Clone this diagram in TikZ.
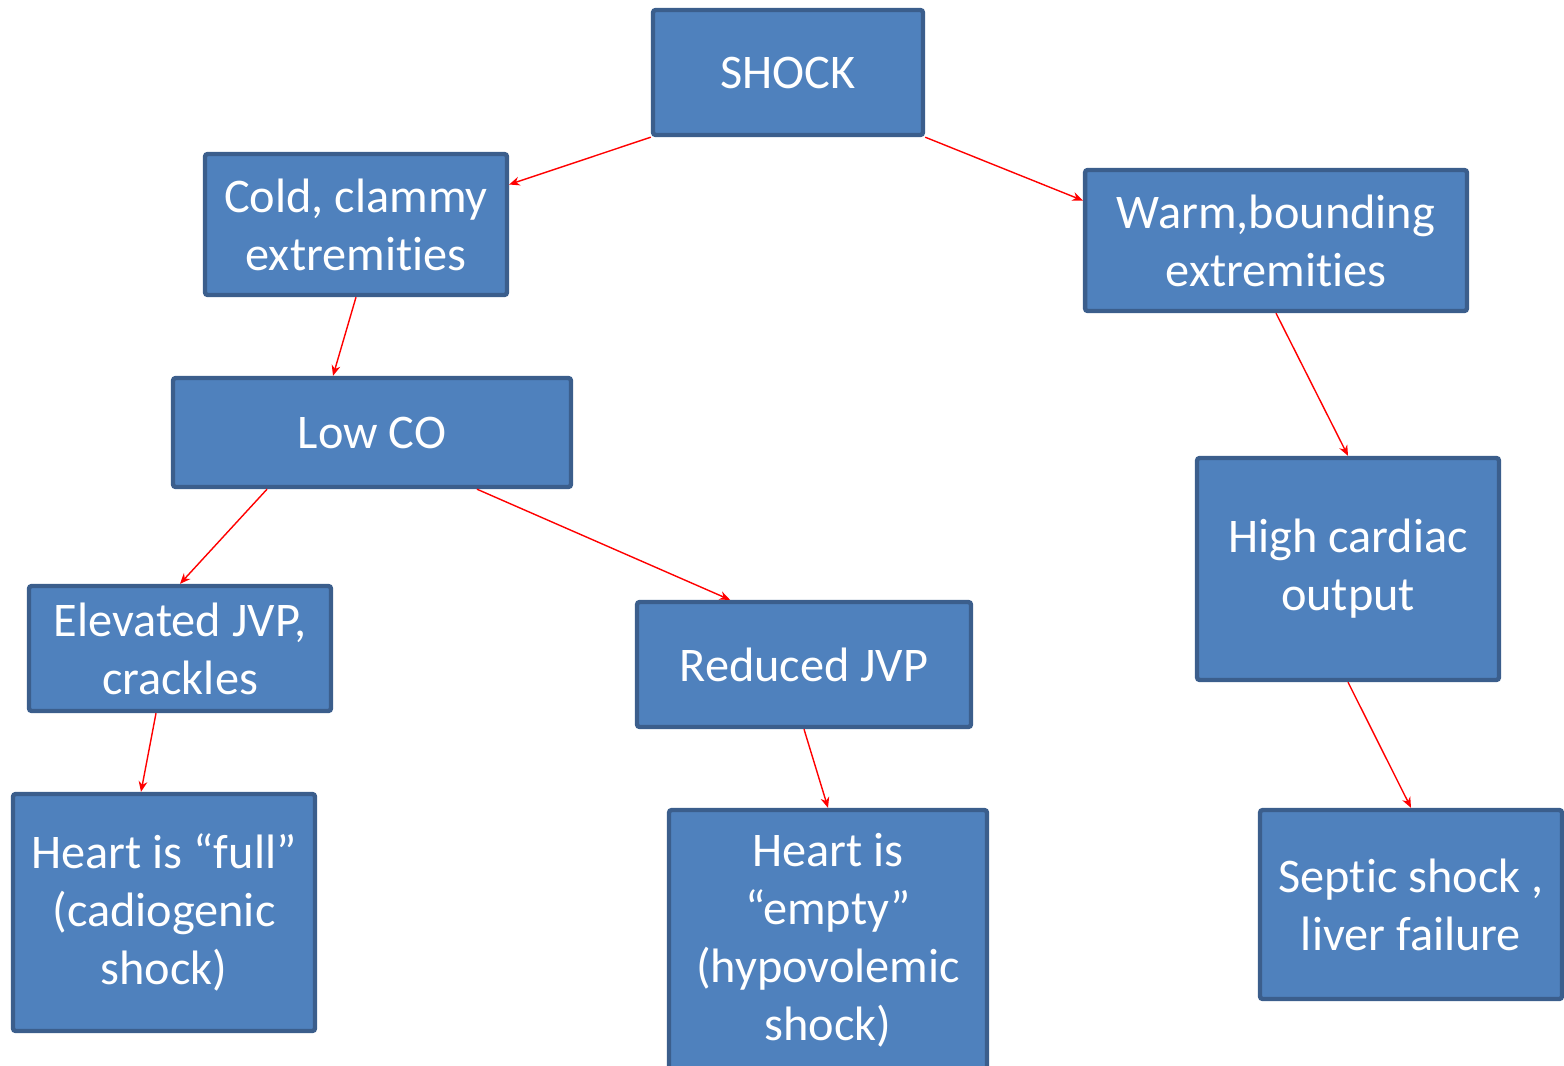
\documentclass[tikz,border=0pt]{standalone}
\usepackage{fontspec}
\setmainfont[Ligatures=NoCommon]{Carlito}
\usetikzlibrary{arrows.meta}
\begin{document}
\begin{tikzpicture}[x=0.02cm,y=-0.02cm,
  box/.style={draw=boxline,fill=boxfill,line width=2.5pt,rounded corners=1.5pt,
    text=white,align=center,inner sep=0pt,font=\fontsize{27.5}{33}\selectfont},
  link/.style={draw=red,line width=0.8pt,-{Stealth[length=6pt,width=5pt]}}]
\definecolor{boxfill}{HTML}{4F81BD}
\definecolor{boxline}{HTML}{3B5E8C}
\clip (0,0) rectangle (1564,1065);
\node[box,minimum width=5.4cm,minimum height=2.5cm] (shock) at (788,72.5) {SHOCK};
\node[box,minimum width=6.04cm,minimum height=2.82cm] (cold) at (356,224.5) {Cold, clammy\\extremities};
\node[box,minimum width=7.64cm,minimum height=2.82cm] (warm) at (1276,240.5) {Warm,bounding\\extremities};
\node[box,minimum width=7.96cm,minimum height=2.18cm] (lowco) at (372,432.5) {Low CO};
\node[box,minimum width=6.04cm,minimum height=4.44cm] (high) at (1348,569) {High cardiac\\output};
\node[box,minimum width=6.04cm,minimum height=2.5cm] (elev) at (180,648.5) {Elevated JVP,\\crackles};
\node[box,minimum width=6.68cm,minimum height=2.5cm] (reduced) at (804,664.5) {Reduced JVP};
\node[box,minimum width=6.04cm,minimum height=4.74cm] (full) at (164,912.5) {Heart is “full”\\(cadiogenic\\shock)};
\node[box,minimum width=6.36cm,minimum height=5.2cm] (empty) at (828,940) {Heart is\\“empty”\\(hypovolemic\\shock)};
\node[box,minimum width=6.04cm,minimum height=3.78cm] (septic) at (1411,904.5) {Septic shock ,\\liver failure};
\draw[link] (shock.south west) -- ([yshift=0.8cm]cold.east);
\draw[link] (shock.south east) -- ([yshift=0.8cm]warm.west);
\draw[link] (cold.south) -- ([xshift=-0.78cm]lowco.north);
\draw[link] ([xshift=-2.1cm]lowco.south) -- (elev.north);
\draw[link] ([xshift=2.1cm]lowco.south) -- ([xshift=-1.48cm]reduced.north);
\draw[link] ([xshift=-0.48cm]elev.south) -- ([xshift=-0.46cm]full.north);
\draw[link] (reduced.south) -- (empty.north);
\draw[link] (warm.south) -- (high.north);
\draw[link] (high.south) -- (septic.north);
\end{tikzpicture}
\end{document}
